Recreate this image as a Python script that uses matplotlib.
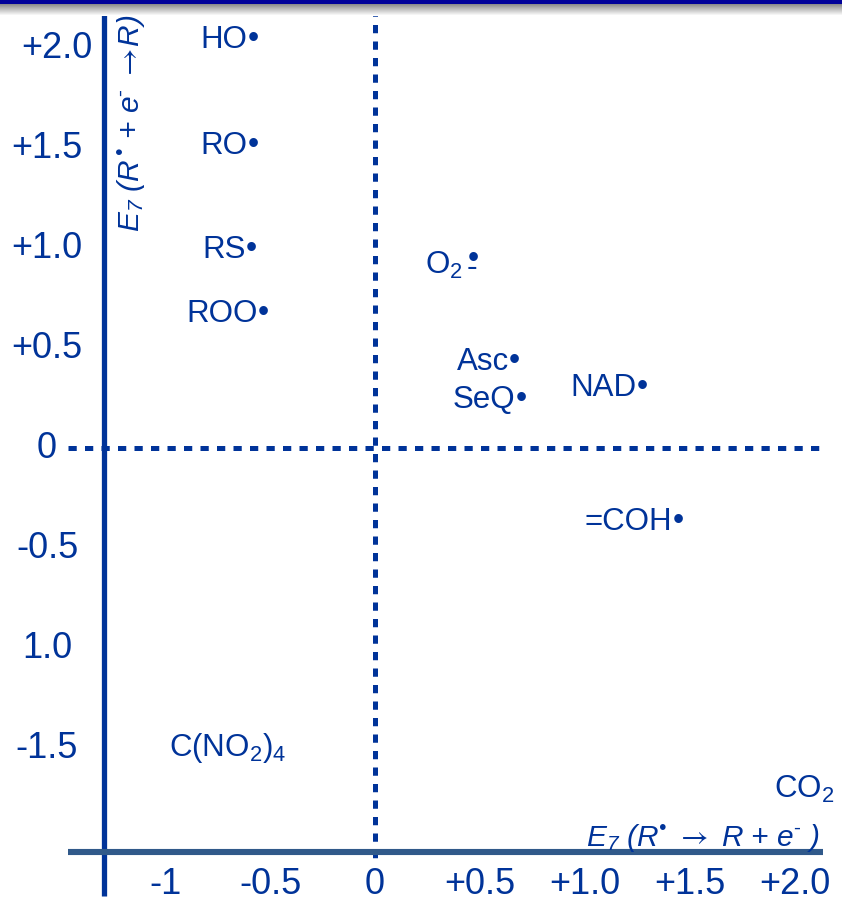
import matplotlib
matplotlib.use("Agg")
import matplotlib.pyplot as plt
from matplotlib.patches import Rectangle
from matplotlib.transforms import IdentityTransform

plt.rcParams['font.family'] = ['Liberation Sans', 'DejaVu Sans']
plt.rcParams['mathtext.fontset'] = 'custom'
plt.rcParams['mathtext.rm'] = 'Liberation Sans'
plt.rcParams['mathtext.it'] = 'Liberation Sans:italic'
plt.rcParams['mathtext.bf'] = 'Liberation Sans:bold'
plt.rcParams['mathtext.sf'] = 'STIXGeneral'
plt.rcParams['mathtext.default'] = 'regular'
plt.rcParams['mathtext.fallback'] = 'stixsans'

# ---- data ----
species = ["HO", "RO", "RS", "ROO", r"O$_2$", "Asc", "SeQ", "NAD", "=COH",
           r"C(NO$_2$)$_4$", r"CO$_2$"]
radical = [True, True, True, True, True, True, True, True, True, False, False]
anion = [False, False, False, False, True, False, False, False, False, False, False]
e_ox = [-0.83, -0.83, -0.82, -0.90, 0.24, 0.39, 0.37, 0.93, 1.00, -0.98, 1.90]
e_red = [2.00, 1.47, 0.95, 0.63, 0.87, 0.39, 0.20, 0.26, -0.41, -1.54, -1.75]

xtick_vals = [-1, -0.5, 0, 0.5, 1.0, 1.5, 2.0]
xtick_labels = ["-1", "-0.5", "0", "+0.5", "+1.0", "+1.5", "+2.0"]
ytick_vals = [2.0, 1.5, 1.0, 0.5, 0, -0.5, -1.0, -1.5]
ytick_labels = ["+2.0", "+1.5", "+1.0", "+0.5", "0", "-0.5", "1.0", "-1.5"]

xlabel = r"E$_7$ (R$^{•}$ $\mathsf{\rightarrow}$ R + e$^{\text{-}}$ )"
ylabel = r"E$_7$ (R$\,{}^{•}$ + e$^{\text{-}}$ $\mathsf{\rightarrow}\!$R)"

# ---- layout ----
W, H = 842, 899
X0PX, Y0PX = 375, 448      # pixel position of (0,0)
SX, SY = 210.0, 200.0      # pixels per unit

def px2x(px):
    return (px - X0PX) / SX

def py2y(py):
    return (Y0PX - py) / SY

BLUE = '#003399'
SLATE = '#30598a'
FS_TICK = 26
FS_LAB = 22.5
FS_TITLE = 21.5
FS_DOT = 23

fig = plt.figure(figsize=(W / 100, H / 100), dpi=100)
ax = fig.add_axes([0, 0, 1, 1])
ax.set_xlim(px2x(0), px2x(W))
ax.set_ylim(py2y(H), py2y(0))
ax.axis('off')

# top banner
fig.patches.append(Rectangle((0, 1 - 4 / H), 1, 4 / H, transform=fig.transFigure,
                             facecolor='#000099', edgecolor='none', zorder=5))
for i in range(12):
    g = 0.55 + 0.45 * (i / 11)
    fig.patches.append(Rectangle((0, 1 - (5 + i) / H), 1, 1.05 / H, transform=fig.transFigure,
                                 facecolor=(g, g, g), edgecolor='none', zorder=5))

# axes lines
ax.plot([px2x(104), px2x(104)], [py2y(6), py2y(896)], color=BLUE, lw=3.8,
        solid_capstyle='butt', zorder=3)
ax.plot([px2x(68), px2x(823)], [py2y(852), py2y(852)], color=SLATE, lw=4.4,
        solid_capstyle='butt', zorder=3)
# dotted zero lines
ax.plot([px2x(68), px2x(823)], [0, 0], color=BLUE, lw=3.6,
        linestyle=(0, (1.65, 1.65)), dash_capstyle='butt', zorder=2)
ax.plot([0, 0], [py2y(8), py2y(862)], color=BLUE, lw=3.6,
        linestyle=(0, (1.65, 1.65)), dash_capstyle='butt', zorder=2)

# tick labels
for v, lab in zip(xtick_vals, xtick_labels):
    ax.text(v, py2y(894), lab, color=BLUE, fontsize=FS_TICK, ha='center', va='baseline')
for v, lab in zip(ytick_vals, ytick_labels):
    xpos = px2x(57) if lab == "+2.0" else px2x(47)
    ax.text(xpos, v, lab, color=BLUE, fontsize=FS_TICK, ha='center', va='center')

# axis titles
ax.text(px2x(820), py2y(846), xlabel, color=BLUE, fontsize=FS_TITLE, fontstyle='italic',
        ha='right', va='baseline')
ax.text(px2x(131), py2y(232), ylabel, color=BLUE, fontsize=FS_TITLE, fontstyle='italic',
        rotation=90, ha='center', va='bottom')

# species
texts = []
for name, x, y in zip(species, e_ox, e_red):
    texts.append(ax.text(x, y, name, color=BLUE, fontsize=FS_LAB, ha='left', va='baseline'))

fig.canvas.draw()
renderer = fig.canvas.get_renderer()
em_dot = FS_DOT * 100 / 72.0
ident = IdentityTransform()
for t, x, y, rad, an in zip(texts, e_ox, e_red, radical, anion):
    bb = t.get_window_extent(renderer)
    base = ax.transData.transform((x, y))[1]
    if an:
        cx = bb.x1 + 10
        ax.text(cx, base + 19 - 0.365 * em_dot, "•", color=BLUE, fontsize=FS_DOT,
                ha='center', va='baseline', transform=ident)
        ax.text(cx - 1, base - 2, "-", color=BLUE, fontsize=FS_DOT,
                ha='center', va='baseline', transform=ident)
    elif rad:
        cx = bb.x1 + 5.5
        ax.text(cx, base + 13 - 0.365 * em_dot, "•", color=BLUE, fontsize=FS_DOT,
                ha='center', va='baseline', transform=ident)

fig.savefig('out.png', dpi=100)
